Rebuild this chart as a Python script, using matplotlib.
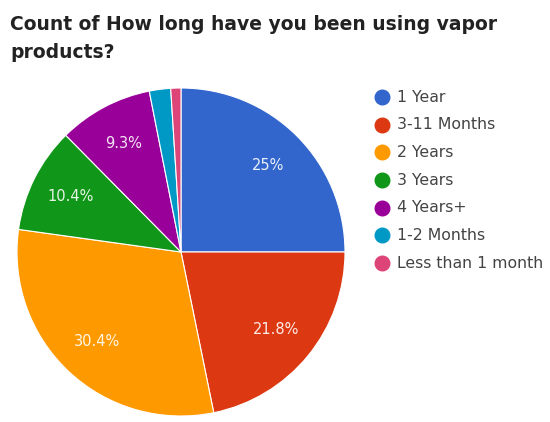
import matplotlib
matplotlib.use("Agg")
import matplotlib.pyplot as plt
from matplotlib.lines import Line2D

categories = ["1 Year", "3-11 Months", "2 Years", "3 Years", "4 Years+", "1-2 Months", "Less than 1 month"]
values = [25.0, 21.8, 30.4, 10.4, 9.3, 2.1, 1.0]
colors = ["#3366cc", "#dc3912", "#ff9900", "#109618", "#990099", "#0099c6", "#dd4477"]
title_lines = ["Count of How long have you been using vapor", "products?"]

fig = plt.figure(figsize=(5.5, 4.22), dpi=100)
fig.patch.set_facecolor("white")

ax = fig.add_axes([(181 - 164) / 550, (170 - 164) / 422, 328 / 550, 328 / 422])

def fmt(p):
    return f"{p:.1f}%".replace(".0%", "%") if p >= 5 else ""

wedges, texts, autotexts = ax.pie(
    values, colors=colors, startangle=90, counterclock=False,
    autopct=fmt, pctdistance=0.75,
    wedgeprops=dict(edgecolor="white", linewidth=0.8),
    textprops=dict(color="white", fontsize=10.5, alpha=0.9),
)
ax.set_xlim(-1, 1)
ax.set_ylim(-1, 1)
ax.set_aspect("equal")

for yb, line in zip([30, 58], title_lines):
    fig.text(10 / 550, 1 - yb / 422, line, ha="left", va="baseline", fontsize=13.5,
             fontweight="bold", color="#222222")

for i, (lab, c) in enumerate(zip(categories, colors)):
    y = 1 - (97 + i * 27.7) / 422
    fig.add_artist(Line2D([382 / 550], [y], marker="o", markersize=10.5, color=c,
                          transform=fig.transFigure))
    fig.text(397 / 550, y, lab, ha="left", va="center", fontsize=11.3, color="#444444")

fig.savefig("out.png", dpi=100)
